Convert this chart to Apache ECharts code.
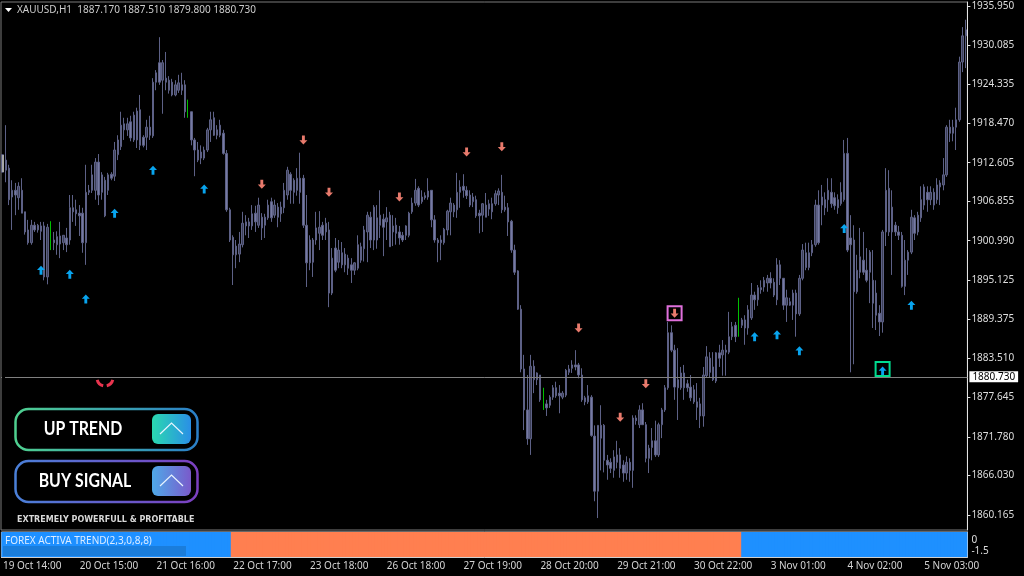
<!DOCTYPE html>
<html>
<head>
<meta charset="utf-8">
<style>
	html, body { margin: 0; background: #000; }
	#chart { width: 1024px; height: 576px; }
</style>
<script src="https://cdn.jsdelivr.net/npm/echarts@6/dist/echarts.min.js"></script>
</head>
<body>
<div id="chart"></div>
<script>
// hourly bars: open, close, low, high
var bars = [
	[1913.8,1911.2,1911.2,1913.8],[1911.5,1913.0,1909.7,1918.2],[1911.8,1907.1,1906.3,1912.3],[1907.5,1908.5,1902.6,1910.0],[1908.5,1907.8,1904.8,1909.6],
	[1907.4,1909.1,1905.6,1909.7],[1908.5,1905.1,1905.1,1910.3],[1905.3,1902.3,1901.9,1905.3],[1902.6,1900.7,1900.4,1904.1],[1900.7,1903.3,1900.4,1904.1],
	[1903.3,1902.6,1902.3,1903.8],[1902.6,1903.3,1902.2,1903.5],[1903.2,1902.4,1901.1,1903.8],[1903.2,1895.6,1895.1,1903.8],[1895.6,1903.0,1894.5,1903.5],
	[1901.4,1901.0,1899.6,1903.9],[1901.1,1900.7,1899.6,1902.3],[1900.4,1901.6,1898.9,1902.4],[1901.7,1900.5,1898.4,1903.8],[1900.7,1901.8,1899.6,1901.8],
	[1901.4,1900.4,1899.3,1902.9],[1901.1,1905.9,1900.4,1907.8],[1905.9,1905.3,1903.8,1907.8],[1905.6,1905.0,1903.2,1907.1],[1905.1,1904.7,1901.7,1906.3],
	[1905.1,1900.7,1899.2,1905.9],[1900.7,1908.2,1897.4,1912.3],[1908.2,1908.5,1907.8,1909.3],[1908.5,1910.8,1908.1,1912.3],[1908.5,1912.7,1907.1,1913.3],
	[1912.7,1907.8,1906.3,1913.9],[1908.2,1910.8,1907.1,1911.2],[1910.0,1904.7,1904.5,1910.5],[1908.5,1910.8,1907.8,1911.1],[1910.9,1910.3,1910.0,1911.2],
	[1910.6,1914.5,1909.9,1915.7],[1913.8,1916.0,1913.0,1916.7],[1915.0,1918.2,1914.5,1920.2],[1918.4,1917.5,1916.0,1919.3],[1917.5,1918.4,1916.6,1919.3],
	[1918.7,1916.3,1915.8,1919.6],[1916.0,1919.7,1915.7,1920.2],[1920.3,1916.0,1914.8,1920.8],[1915.2,1920.5,1914.5,1922.7],[1916.4,1915.2,1914.9,1916.7],
	[1916.4,1917.9,1914.5,1919.0],[1917.9,1916.7,1916.0,1919.6],[1916.6,1924.6,1916.3,1925.2],[1924.6,1926.0,1923.4,1926.4],[1927.5,1924.6,1924.2,1931.3],
	[1924.9,1927.5,1919.9,1927.9],[1925.2,1924.6,1923.4,1929.1],[1924.9,1923.4,1922.9,1925.5],[1924.6,1922.7,1922.5,1925.1],[1922.7,1924.2,1922.5,1924.9],
	[1923.4,1924.5,1923.0,1925.7],[1924.2,1923.4,1922.7,1926.0],[1924.2,1920.2,1919.3,1924.9],[1921.2,1920.8,1919.3,1922.0],[1920.2,1916.0,1915.2,1920.2],
	[1916.0,1914.5,1910.6,1916.3],[1914.5,1913.0,1912.7,1915.7],[1913.3,1914.2,1912.4,1915.2],[1913.3,1914.5,1913.0,1915.0],[1914.5,1917.5,1914.2,1917.8],
	[1917.5,1919.0,1915.7,1920.2],[1919.3,1916.7,1916.6,1920.2],[1917.5,1916.7,1916.1,1918.2],[1916.7,1918.2,1916.4,1919.0],[1917.0,1914.0,1913.8,1917.5],
	[1914.0,1905.6,1905.3,1914.5],[1905.6,1901.1,1900.8,1905.9],[1901.5,1898.9,1894.4,1901.8],[1898.9,1900.2,1896.9,1901.1],[1899.0,1900.5,1897.8,1902.3],
	[1900.4,1903.6,1900.0,1905.3],[1903.8,1903.2,1901.8,1904.8],[1903.8,1903.2,1901.4,1904.4],[1903.2,1905.0,1902.6,1906.3],[1905.1,1903.8,1902.3,1906.2],
	[1903.3,1906.3,1902.9,1907.4],[1904.5,1902.9,1901.1,1905.1],[1903.3,1904.5,1901.4,1905.0],[1904.4,1906.3,1904.1,1907.1],[1906.8,1904.4,1903.8,1907.4],
	[1904.8,1906.3,1904.4,1907.1],[1906.0,1904.5,1903.0,1906.6],[1905.0,1906.0,1903.8,1906.8],[1905.9,1908.5,1905.1,1909.6],[1907.8,1911.5,1907.1,1912.0],
	[1910.9,1908.5,1906.5,1911.2],[1910.0,1908.2,1906.5,1910.3],[1908.5,1910.3,1907.7,1911.8],[1910.3,1908.2,1906.5,1914.1],[1910.3,1903.3,1902.9,1910.8],
	[1903.3,1897.7,1894.1,1907.8],[1897.7,1901.1,1896.6,1901.8],[1901.1,1897.8,1895.6,1901.4],[1901.1,1902.9,1900.4,1905.3],[1902.1,1903.0,1899.6,1905.4],
	[1903.3,1901.8,1901.1,1903.8],[1902.3,1903.6,1901.1,1904.4],[1902.6,1893.2,1891.1,1903.8],[1893.2,1898.4,1892.9,1899.9],[1899.9,1896.6,1896.3,1901.4],
	[1897.8,1899.6,1896.9,1901.1],[1899.2,1897.4,1896.9,1900.8],[1897.4,1899.0,1896.3,1899.9],[1898.4,1896.9,1895.9,1898.9],[1897.4,1896.6,1894.7,1898.4],
	[1896.6,1897.7,1895.9,1897.8],[1896.9,1900.4,1896.6,1901.8],[1900.1,1898.1,1897.7,1900.7],[1899.8,1902.6,1897.9,1903.2],[1902.3,1904.8,1897.8,1905.3],
	[1904.5,1901.1,1899.9,1905.3],[1901.1,1906.0,1899.6,1906.3],[1904.4,1901.1,1899.8,1906.3],[1903.3,1904.8,1901.4,1908.5],[1904.2,1903.0,1898.7,1905.0],
	[1903.8,1904.4,1901.1,1906.0],[1904.8,1900.1,1900.1,1905.3],[1902.3,1903.2,1900.2,1904.8],[1903.3,1902.1,1900.4,1904.4],[1902.3,1901.4,1900.4,1903.2],
	[1901.8,1901.1,1900.8,1902.3],[1901.8,1903.2,1901.1,1903.3],[1901.8,1905.1,1901.5,1905.3],[1905.3,1906.6,1905.0,1907.4],[1906.6,1908.5,1906.2,1910.2],
	[1908.8,1906.3,1906.0,1909.1],[1906.8,1907.5,1906.5,1908.5],[1907.7,1907.4,1907.1,1908.2],[1907.5,1908.4,1907.1,1910.3],[1908.5,1904.1,1903.0,1908.5],
	[1904.1,1901.1,1900.7,1904.8],[1901.1,1900.7,1897.8,1901.4],[1900.7,1901.1,1898.1,1901.8],[1900.7,1902.7,1900.4,1902.9],[1902.6,1905.4,1901.8,1905.6],
	[1905.3,1906.6,1901.8,1907.4],[1906.3,1905.3,1904.5,1906.6],[1905.6,1908.2,1904.4,1911.1],[1908.2,1909.0,1905.9,1910.0],[1909.1,1908.5,1907.4,1910.9],
	[1908.5,1907.7,1907.2,1909.1],[1907.8,1906.3,1906.0,1908.5],[1906.8,1907.5,1906.0,1908.1],[1907.1,1904.7,1904.4,1907.7],[1905.1,1904.7,1902.1,1905.6],
	[1904.8,1906.5,1902.3,1906.6],[1906.3,1904.5,1904.5,1908.1],[1905.7,1906.5,1904.7,1907.1],[1906.5,1905.3,1904.2,1907.4],[1906.5,1908.0,1906.2,1908.5],
	[1907.8,1908.4,1906.3,1908.8],[1908.2,1905.6,1905.1,1910.8],[1906.0,1905.6,1905.3,1907.7],[1905.9,1903.8,1901.7,1906.6],[1903.9,1899.6,1899.2,1904.1],
	[1899.6,1896.3,1895.9,1900.4],[1896.5,1890.8,1890.7,1896.6],[1890.8,1881.9,1881.4,1891.4],[1881.9,1875.8,1872.8,1884.0],[1875.8,1871.5,1870.6,1881.0],
	[1871.5,1882.3,1869.1,1884.0],[1882.3,1880.3,1878.3,1883.2],[1880.3,1881.3,1879.5,1881.4],[1881.0,1877.3,1877.0,1881.0],[1876.7,1876.5,1875.8,1879.1],
	[1876.7,1876.1,1874.9,1877.3],[1876.5,1877.7,1876.1,1878.0],[1877.7,1879.1,1877.3,1879.5],[1879.1,1877.9,1877.6,1880.0],[1878.3,1877.9,1875.3,1879.5],
	[1877.7,1878.3,1877.4,1878.6],[1878.0,1881.7,1877.7,1881.9],[1881.4,1881.9,1881.0,1882.5],[1882.0,1882.5,1881.3,1883.2],[1882.5,1882.2,1881.7,1884.7],
	[1882.5,1881.0,1880.5,1882.8],[1881.0,1877.3,1877.0,1882.0],[1877.6,1877.0,1876.5,1877.9],[1877.0,1877.9,1876.7,1879.5],[1877.7,1872.0,1871.8,1878.0],
	[1871.9,1863.7,1862.2,1873.5],[1863.7,1873.5,1859.7,1873.5],[1873.5,1871.6,1866.8,1876.5],[1873.5,1868.3,1866.5,1873.7],[1868.3,1867.6,1865.4,1869.1],
	[1868.0,1867.1,1866.4,1868.6],[1866.8,1868.8,1865.7,1869.8],[1868.0,1869.1,1867.1,1871.2],[1869.1,1867.1,1865.7,1870.1],[1867.6,1866.4,1865.1,1868.3],
	[1866.4,1868.0,1865.4,1868.9],[1868.0,1866.8,1865.1,1868.6],[1866.8,1874.6,1864.2,1875.0],[1874.6,1874.2,1873.6,1875.0],[1873.6,1875.8,1873.1,1876.5],
	[1875.8,1873.6,1873.6,1876.8],[1873.6,1868.6,1868.0,1874.0],[1868.6,1870.1,1866.4,1870.6],[1870.2,1871.2,1868.3,1873.1],[1871.2,1869.1,1868.8,1874.2],
	[1869.1,1873.6,1868.8,1873.9],[1873.6,1875.8,1871.6,1876.1],[1875.8,1879.1,1875.5,1879.5],[1879.1,1887.3,1878.8,1888.9],[1887.3,1884.7,1884.4,1888.4],
	[1884.7,1879.2,1877.3,1885.5],[1880.3,1879.1,1874.3,1885.0],[1879.1,1881.3,1878.8,1882.2],[1881.3,1879.1,1877.3,1882.5],[1879.7,1879.1,1878.5,1880.3],
	[1879.2,1877.6,1877.1,1881.0],[1878.8,1877.0,1876.7,1879.5],[1877.0,1876.2,1874.3,1879.8],[1876.7,1874.9,1873.1,1877.6],[1874.9,1881.0,1873.3,1882.2],
	[1880.9,1883.7,1880.6,1885.3],[1883.5,1881.4,1880.6,1884.4],[1882.2,1880.3,1880.1,1884.4],[1880.1,1884.3,1879.8,1884.4],[1884.3,1883.5,1882.2,1885.5],
	[1884.0,1884.7,1880.9,1886.2],[1884.7,1884.4,1880.9,1885.5],[1884.4,1886.7,1884.1,1890.4],[1886.7,1888.2,1886.2,1888.9],[1888.4,1886.7,1885.9,1888.9],
	[1888.2,1888.0,1886.7,1892.5],[1888.4,1889.2,1888.0,1889.5],[1889.2,1888.0,1885.5,1889.9],[1888.0,1890.7,1887.0,1891.4],[1889.5,1892.9,1889.2,1894.7],
	[1892.9,1892.2,1890.7,1893.4],[1892.2,1894.0,1891.3,1894.4],[1894.0,1893.7,1893.1,1895.1],[1894.1,1895.1,1893.4,1895.6],[1894.7,1895.4,1893.4,1895.9],
	[1895.4,1894.7,1893.9,1896.3],[1894.8,1892.9,1892.6,1895.4],[1892.2,1897.4,1891.4,1898.4],[1897.4,1895.4,1894.4,1898.1],[1895.4,1891.4,1890.7,1895.4],
	[1891.4,1892.5,1888.9,1893.7],[1891.9,1891.4,1891.3,1892.5],[1891.4,1893.2,1889.2,1893.7],[1893.2,1890.1,1886.7,1893.7],[1890.1,1895.4,1889.8,1895.9],
	[1895.4,1899.6,1895.1,1900.5],[1899.2,1897.0,1896.6,1900.7],[1897.0,1899.2,1896.6,1900.7],[1899.2,1900.4,1898.7,1901.1],[1900.4,1906.3,1900.1,1907.1],
	[1906.3,1900.7,1900.4,1908.5],[1906.3,1907.5,1903.3,1909.3],[1907.1,1905.9,1904.8,1908.2],[1907.1,1908.5,1905.3,1910.3],[1908.2,1906.5,1905.9,1910.3],
	[1907.4,1906.2,1905.6,1908.2],[1907.1,1905.9,1905.0,1907.9],[1906.5,1908.2,1906.2,1909.7],[1907.1,1914.0,1906.8,1916.0],[1914.0,1899.6,1899.3,1916.3],
	[1901.4,1900.4,1881.4,1904.8],[1901.1,1893.4,1882.6,1903.3],[1893.4,1896.6,1893.1,1898.9],[1896.3,1898.6,1895.4,1902.9],[1898.1,1896.3,1895.9,1902.3],
	[1896.6,1895.1,1894.8,1899.9],[1896.3,1899.3,1891.7,1899.6],[1895.1,1891.7,1888.0,1899.6],[1893.2,1889.9,1887.7,1895.1],[1890.2,1888.9,1886.8,1891.4],
	[1888.9,1902.3,1887.3,1902.6],[1902.3,1908.5,1900.2,1911.8],[1908.8,1902.3,1901.7,1911.5],[1902.3,1906.0,1895.9,1908.5],[1903.3,1902.3,1901.7,1903.8],
	[1902.3,1901.8,1901.1,1903.2],[1901.8,1894.2,1894.0,1902.3],[1894.2,1898.1,1892.9,1901.1],[1898.1,1899.3,1895.9,1899.6],[1899.3,1904.5,1899.0,1905.6],
	[1904.4,1902.1,1901.1,1904.8],[1902.3,1904.8,1901.8,1905.3],[1904.4,1907.1,1903.8,1909.1],[1906.3,1909.0,1905.6,1909.4],[1908.2,1907.1,1905.3,1909.1],
	[1907.1,1908.2,1906.3,1909.1],[1908.2,1906.3,1905.6,1908.8],[1907.1,1909.3,1906.5,1910.3],[1909.0,1909.6,1906.3,1910.0],[1909.3,1910.8,1908.5,1913.3],
	[1910.8,1917.9,1910.5,1918.2],[1917.9,1917.0,1915.7,1919.0],[1917.0,1917.9,1915.8,1919.0],[1917.9,1919.0,1914.5,1920.8],[1919.0,1927.6,1918.7,1928.4],
	[1927.6,1931.5,1926.1,1932.8],[1931.5,1932.4,1926.7,1933.9]
];
// the thin green bars where the trend flips
var greenBarIndexes = [15, 58, 169, 230];

var priceTicks = [1935.950, 1930.085, 1924.335, 1918.470, 1912.605, 1906.855, 1900.990, 1895.125, 1889.375, 1883.510, 1877.645, 1871.780, 1866.030, 1860.165];
var lastPrice = 1880.730;
var timeLabels = ['19 Oct 14:00', '20 Oct 15:00', '21 Oct 16:00', '22 Oct 17:00', '23 Oct 18:00', '26 Oct 18:00', '27 Oct 19:00', '28 Oct 20:00', '29 Oct 21:00', '30 Oct 22:00', '3 Nov 01:00', '4 Nov 02:00', '5 Nov 03:00'];
var barsPerLabel = 24;

// [bar index, price]
var buyArrows = [[12,1896.6],[21,1896.0],[26,1892.3],[35,1905.1],[47,1911.5],[63,1908.7],[235,1886.7],[242,1887.0],[249,1884.6],[263,1902.8],[284,1891.4],[275,1881.6]];
var sellArrows = [[81,1909.4],[94,1916.0],[102,1908.2],[124,1907.5],[145,1914.2],[156,1915.0],[180,1888.0],[193,1874.7],[201,1879.7],[210,1890.2]];
var sellBox = [[210,1890.2]];
var buyBox = [[275,1881.9]];

// indicator runs: bar count, direction
var trendRuns = [[72, 1], [159, -1], [71, 1]];

var candleColor = '#767aa3';
var wickColor = '#5d6186';
var arrowUp = 'path://M5 0 L10 5.2 L6.8 5.2 L6.8 11 L3.2 11 L3.2 5.2 L0 5.2 Z';
var arrowDown = 'path://M3.2 0 L6.8 0 L6.8 5.8 L10 5.8 L5 11 L0 5.8 L3.2 5.8 Z';
var uiFont = '"Noto Sans", sans-serif';

var categories = bars.map(function(b, i) {
	return i % barsPerLabel === 0 ? timeLabels[i / barsPerLabel] : '';
});
var plainBars = bars.map(function(b, i) {
	return greenBarIndexes.indexOf(i) < 0 ? b : '-';
});
var greenBars = bars.map(function(b, i) {
	return greenBarIndexes.indexOf(i) < 0 ? '-' : b;
});
var trendUp = [], trendDown = [];
trendRuns.forEach(function(run) {
	for (var k = 0; k < run[0]; k++) {
		trendUp.push(run[1] > 0 ? 1 : '-');
		trendDown.push(run[1] < 0 ? 1 : '-');
	}
});

function sideGradient(from, to) {
	return {
		type: 'linear', x: 0, y: 0, x2: 1, y2: 0,
		colorStops: [{ offset: 0, color: from }, { offset: 1, color: to }]
	};
}

// one of the two promo buttons in the lower left corner
function signalButton(top, label, textX, lineFrom, lineTo, boxFrom, boxTo) {
	return [
		{ type: 'rect', shape: { x: 15.5, y: top, width: 182, height: 41, r: 13 }, style: { fill: '#000', stroke: sideGradient(lineFrom, lineTo), lineWidth: 2.5 }, z: 20 },
		{ type: 'rect', shape: { x: 152, y: top + 5, width: 39, height: 30, r: 6 }, style: { fill: sideGradient(boxFrom, boxTo) }, z: 21 },
		{ type: 'polyline', shape: { points: [[160, top + 25], [171.5, top + 14], [183, top + 25]] }, style: { stroke: '#e8f4ff', fill: null, lineWidth: 1.2 }, z: 22 },
		{ type: 'text', x: textX, y: top + 20, scaleX: 0.88, style: { text: label, fill: '#fff', font: 'bold 18px Lato, sans-serif', textAlign: 'center', textVerticalAlign: 'middle' }, z: 22 }
	];
}

var graphicItems = [
	{ type: 'polygon', shape: { points: [[5, 8], [12, 8], [8.5, 12]] }, style: { fill: '#fff' }, z: 20 },
	{ type: 'rect', shape: { x: 2, y: 376, width: 3, height: 2 }, style: { fill: '#000' }, z: 20 },
	{ type: 'rect', shape: { x: 2, y: 155, width: 2, height: 17 }, style: { fill: '#a8a8a8' }, z: 20 },
	// the small red icon sitting on the price line
	{ type: 'arc', shape: { cx: 105, cy: 378, r: 8, startAngle: 1.8, endAngle: 2.9, clockwise: true }, style: { stroke: '#e8344e', fill: null, lineWidth: 3 }, z: 20 },
	{ type: 'arc', shape: { cx: 105, cy: 378, r: 8, startAngle: 0.25, endAngle: 1.35, clockwise: true }, style: { stroke: '#e8344e', fill: null, lineWidth: 3 }, z: 20 },
	{ type: 'rect', shape: { x: 3, y: 546, width: 183, height: 10 }, style: { fill: '#1a7ddb' }, z: 20 },
	{ type: 'text', x: 5, y: 541, style: { text: 'FOREX ACTIVA TREND(2,3,0,8,8)', fill: '#dcecff', font: '10px ' + uiFont, textVerticalAlign: 'middle' }, z: 21 },
	{ type: 'text', x: 17, y: 520, style: { text: 'EXTREMELY POWERFULL & PROFITABLE', fill: '#d8d8d8', font: 'bold 8px "DejaVu Sans", sans-serif', textVerticalAlign: 'middle' }, z: 22 }
]
	.concat(signalButton(409, 'UP TREND', 83, '#4fd08f', '#2a7fc9', '#2ad9b0', '#2a8fe6'))
	.concat(signalButton(461, 'BUY SIGNAL', 85, '#4a80d8', '#7c3fc0', '#4fa9e8', '#7a5acb'));

var option = {
	backgroundColor: '#000',
	animation: false,
	title: {
		text: 'XAUUSD,H1  1887.170 1887.510 1879.800 1880.730',
		left: 12,
		top: 0,
		textStyle: { color: '#cccccc', fontSize: 10, fontWeight: 'normal', fontFamily: uiFont }
	},
	grid: [
		{ left: 1, top: 2, width: 966.4, height: 528, show: true, borderColor: '#7a7a7a', borderWidth: 1 },
		{ left: 1, top: 532, width: 966.4, height: 25, show: true, borderColor: '#cfcfcf', borderWidth: 1 }
	],
	xAxis: [
		{ type: 'category', gridIndex: 0, data: categories, show: false },
		{
			type: 'category',
			gridIndex: 1,
			data: categories,
			axisLine: { lineStyle: { color: '#cfcfcf' } },
			axisTick: { length: 3, interval: barsPerLabel - 1, alignWithLabel: true, lineStyle: { color: '#cfcfcf' } },
			axisLabel: { interval: barsPerLabel - 1, align: 'left', margin: 4, color: '#d4d4d4', fontSize: 10, fontFamily: uiFont }
		}
	],
	yAxis: [
		{
			type: 'value',
			gridIndex: 0,
			position: 'right',
			min: 1857.92,
			max: 1936.54,
			splitLine: { show: false },
			axisLine: { show: true, lineStyle: { color: '#e4e4e4' } },
			axisTick: { show: true, length: 3, customValues: priceTicks, lineStyle: { color: '#e4e4e4' } },
			axisLabel: {
				customValues: priceTicks,
				margin: 4,
				padding: [2, 0, 0, 0],
				color: '#dedede',
				fontSize: 10,
				fontFamily: uiFont,
				formatter: function(v) { return v.toFixed(3); }
			}
		},
		{
			type: 'value',
			gridIndex: 1,
			position: 'right',
			min: 0,
			max: 1,
			show: false
		},
		{
			type: 'value',
			gridIndex: 1,
			position: 'right',
			min: -2.26,
			max: 1,
			splitLine: { show: false },
			axisLine: { show: true, lineStyle: { color: '#e4e4e4' } },
			axisTick: { show: false },
			axisLabel: {
				customValues: [0, -1.5],
				margin: 4,
				padding: [2, 0, 0, 0],
				color: '#dedede',
				fontSize: 10,
				fontFamily: uiFont
			}
		}
	],
	series: [
		{
			name: 'XAUUSD',
			type: 'candlestick',
			xAxisIndex: 0,
			yAxisIndex: 0,
			barWidth: 2,
			data: plainBars,
			itemStyle: { color: '#3c3f58', color0: candleColor, borderColor: wickColor, borderColor0: wickColor, borderWidth: 1 },
			markLine: {
				silent: true,
				symbol: 'none',
				data: [{ yAxis: lastPrice }],
				lineStyle: { color: '#808080', type: 'solid', width: 1 },
				label: {
					position: 'end',
					distance: 2,
					formatter: lastPrice.toFixed(3),
					color: '#000',
					backgroundColor: '#fff',
					fontSize: 10,
					fontFamily: uiFont,
					padding: [1, 3, 0, 3]
				}
			}
		},
		{
			name: 'flip',
			type: 'candlestick',
			xAxisIndex: 0,
			yAxisIndex: 0,
			barWidth: 1,
			data: greenBars,
			itemStyle: { color: '#00c000', color0: '#00c000', borderColor: '#00c000', borderColor0: '#00c000', borderWidth: 1 }
		},
		{ name: 'buy', type: 'scatter', xAxisIndex: 0, yAxisIndex: 0, symbol: arrowUp, symbolSize: [8, 9], data: buyArrows, itemStyle: { color: '#08a4ee', opacity: 1 }, z: 5 },
		{ name: 'sell', type: 'scatter', xAxisIndex: 0, yAxisIndex: 0, symbol: arrowDown, symbolSize: [8, 9], data: sellArrows, itemStyle: { color: '#e87a6c', opacity: 1 }, z: 5 },
		{ name: 'sell box', type: 'scatter', xAxisIndex: 0, yAxisIndex: 0, symbol: 'rect', symbolSize: 14, data: sellBox, itemStyle: { color: 'transparent', borderColor: '#e070dc', borderWidth: 2, opacity: 1 }, z: 6 },
		{ name: 'buy box', type: 'scatter', xAxisIndex: 0, yAxisIndex: 0, symbol: 'rect', symbolSize: 14, data: buyBox, itemStyle: { color: 'transparent', borderColor: '#00dc90', borderWidth: 2, opacity: 1 }, z: 6 },
		// a bit wider than one step, otherwise hairline seams show between the bars
		{ name: 'trend up', type: 'bar', xAxisIndex: 1, yAxisIndex: 1, stack: 'trend', barWidth: 5, data: trendUp, itemStyle: { color: '#1e90ff' } },
		{ name: 'trend down', type: 'bar', xAxisIndex: 1, yAxisIndex: 1, stack: 'trend', barWidth: 5, data: trendDown, itemStyle: { color: '#ff7f50' } }
	],
	graphic: graphicItems
};

var myChart = echarts.init(document.getElementById('chart'));
myChart.setOption(option);
</script>
</body>
</html>
